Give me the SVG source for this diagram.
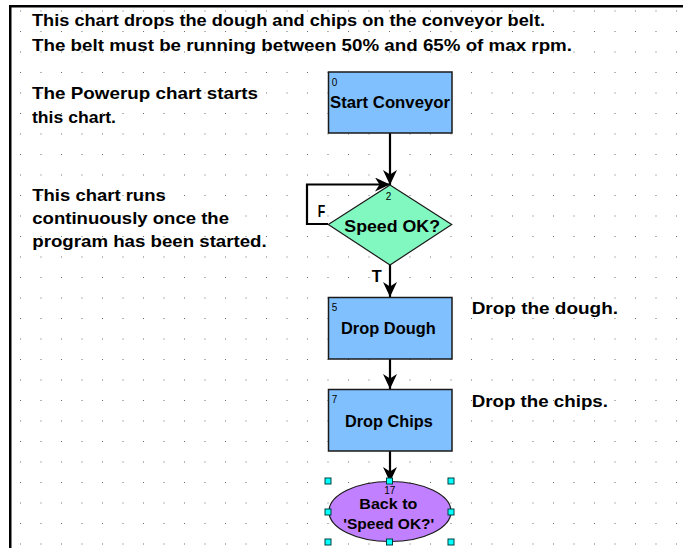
<svg xmlns="http://www.w3.org/2000/svg" width="683" height="548" viewBox="0 0 683 548">
  <style>
    .txt { font-family: "Liberation Sans", Arial, sans-serif; font-weight: bold; font-size: 16.5px; fill: #000; }
    .sm { font-size: 15px; }
    .num { font-family: "Liberation Sans", Arial, sans-serif; font-size: 10px; fill: #000; }
    .box { fill: #80C0FF; stroke: #1a1a1a; stroke-width: 1.5; }
    .dec { fill: #80F8C0; stroke: #1a1a1a; stroke-width: 1.2; }
    .end { fill: #C080FF; stroke: #1a1a1a; stroke-width: 1.2; }
    .wire { fill: none; stroke: #000; stroke-width: 2.2; }
    .handle { fill: #00FFFF; stroke: #004040; stroke-width: 1; }
  </style>
  <defs>
    <pattern id="grid" patternUnits="userSpaceOnUse" x="-0.5" y="-10" width="20.5" height="20.5">
      <rect x="0" y="0" width="1" height="1" fill="#6a6a6a"/>
    </pattern>
    <marker id="arrow" markerUnits="userSpaceOnUse" markerWidth="16" markerHeight="14" refX="15" refY="7" orient="auto">
      <path d="M0,0 L15,7 L0,14 L4.5,7 Z" fill="#000"/>
    </marker>
  </defs>

  <!-- page background with snap grid -->
  <rect x="0" y="0" width="683" height="548" fill="#fff"/>
  <rect x="11" y="7" width="672" height="541" fill="url(#grid)"/>

  <!-- sheet frame -->
  <rect x="9" y="5" width="674" height="2.5" fill="#000"/>
  <rect x="9" y="5" width="2.5" height="543" fill="#000"/>

  <!-- notes -->
  <g id="notes">
    <text class="txt" x="32" y="26" textLength="513" lengthAdjust="spacingAndGlyphs">This chart drops the dough and chips on the conveyor belt.</text>
    <text class="txt" x="32" y="50.5" textLength="540" lengthAdjust="spacingAndGlyphs">The belt must be running between 50% and 65% of max rpm.</text>
    <text class="txt" x="32" y="99" textLength="226" lengthAdjust="spacingAndGlyphs">The Powerup chart starts</text>
    <text class="txt" x="32" y="122.5" textLength="84" lengthAdjust="spacingAndGlyphs">this chart.</text>
    <text class="txt" x="32.3" y="200.7" textLength="133.4" lengthAdjust="spacingAndGlyphs">This chart runs</text>
    <text class="txt" x="32.3" y="224" textLength="196.7" lengthAdjust="spacingAndGlyphs">continuously once the</text>
    <text class="txt" x="32.3" y="247.3" textLength="234.4" lengthAdjust="spacingAndGlyphs">program has been started.</text>
    <text class="txt" x="471.7" y="314.3" textLength="146.3" lengthAdjust="spacingAndGlyphs">Drop the dough.</text>
    <text class="txt" x="471.7" y="406.7" textLength="136.3" lengthAdjust="spacingAndGlyphs">Drop the chips.</text>
  </g>

  <!-- connectors -->
  <g id="connectors">
    <line class="wire" x1="390" y1="133" x2="390" y2="185" marker-end="url(#arrow)"/>
    <polyline class="wire" points="328,224 307,224 307,184.5 390,184.5" marker-end="url(#arrow)"/>
    <line class="wire" x1="390" y1="265" x2="390" y2="297" marker-end="url(#arrow)"/>
    <line class="wire" x1="390" y1="359" x2="390" y2="389" marker-end="url(#arrow)"/>
    <line class="wire" x1="390" y1="451" x2="390" y2="482" marker-end="url(#arrow)"/>
    <text class="txt" x="317.7" y="216.7" textLength="7.5" lengthAdjust="spacingAndGlyphs">F</text>
    <text class="txt" x="371.7" y="281.5" textLength="10" lengthAdjust="spacingAndGlyphs">T</text>
  </g>

  <!-- chart blocks -->
  <g id="start-conveyor">
    <rect class="box" x="328.5" y="72" width="123.5" height="61"/>
    <text class="num" x="331.7" y="86">0</text>
    <text class="txt" x="330" y="107.7" textLength="120" lengthAdjust="spacingAndGlyphs">Start Conveyor</text>
  </g>

  <g id="speed-ok">
    <polygon class="dec" points="390,185 451.7,224.5 390,265 328.3,224.5"/>
    <text class="num" x="385.7" y="200">2</text>
    <text class="txt" x="344.3" y="231.7" textLength="95.7" lengthAdjust="spacingAndGlyphs">Speed OK?</text>
  </g>

  <g id="drop-dough">
    <rect class="box" x="328.5" y="297.5" width="123.5" height="61.5"/>
    <text class="num" x="331.7" y="310.7">5</text>
    <text class="txt" x="341" y="334" textLength="94.7" lengthAdjust="spacingAndGlyphs">Drop Dough</text>
  </g>

  <g id="drop-chips">
    <rect class="box" x="328.5" y="389.5" width="123.5" height="61.5"/>
    <text class="num" x="331.7" y="403.3">7</text>
    <text class="txt" x="345" y="426.7" textLength="87.7" lengthAdjust="spacingAndGlyphs">Drop Chips</text>
  </g>

  <g id="back-to-speed-ok">
    <ellipse class="end" cx="390" cy="511.5" rx="61" ry="30"/>
    <!-- selection handles -->
    <rect class="handle" x="325" y="478" width="6" height="6"/>
    <rect class="handle" x="386.5" y="478" width="6" height="6"/>
    <rect class="handle" x="448" y="478" width="6" height="6"/>
    <rect class="handle" x="325" y="509" width="6" height="6"/>
    <rect class="handle" x="448" y="509" width="6" height="6"/>
    <rect class="handle" x="325" y="539" width="6" height="6"/>
    <rect class="handle" x="386.5" y="539" width="6" height="6"/>
    <rect class="handle" x="448" y="539" width="6" height="6"/>
    <text class="num" x="384.3" y="494">17</text>
    <text class="txt sm" x="359.3" y="508.5" textLength="58" lengthAdjust="spacingAndGlyphs">Back to</text>
    <text class="txt sm" x="343.3" y="528.5" textLength="91" lengthAdjust="spacingAndGlyphs">'Speed OK?'</text>
  </g>
</svg>
